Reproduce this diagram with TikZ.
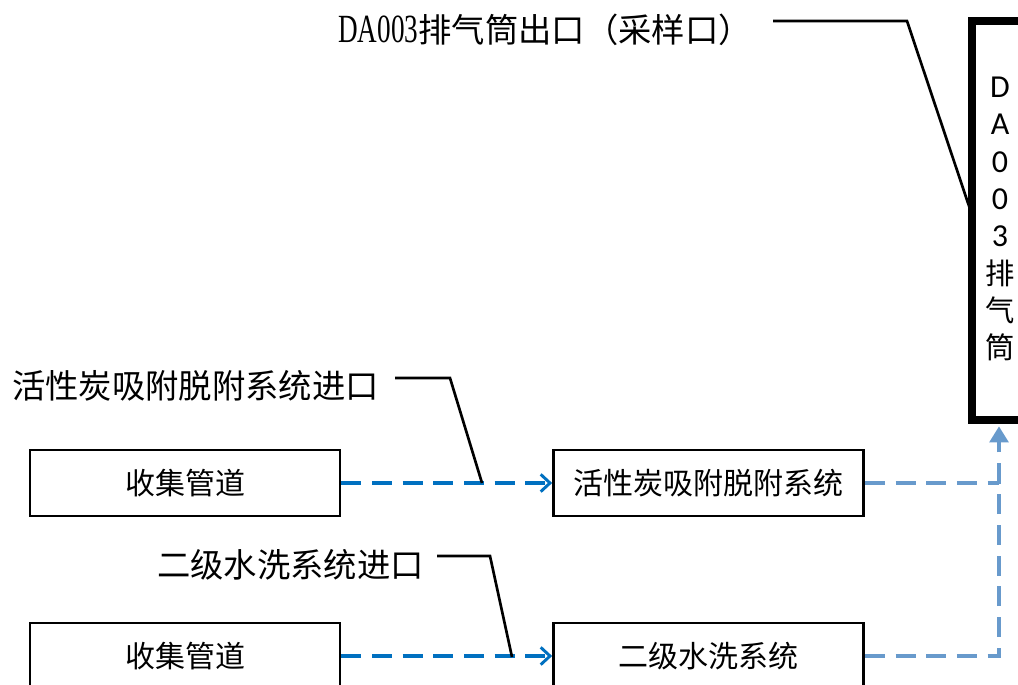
\documentclass[tikz,border=0pt]{standalone}
\usepackage{fontspec}
\usetikzlibrary{arrows.meta}
\newfontfamily\cjk{Noto Sans CJK SC}
\newfontfamily\lat{Carlito}
\newfontfamily\serifl{Liberation Serif}
\definecolor{dblue}{RGB}{0,112,192}
\definecolor{lblue}{RGB}{104,154,204}
\begin{document}
\begin{tikzpicture}[x=0.75pt,y=-0.75pt,
  box/.style={draw=black,line width=2pt,fill=white,minimum width=232.5pt,minimum height=49.5pt,inner sep=0pt,font=\cjk\fontsize{22.5}{26}\selectfont},
  lab/.style={inner sep=0pt,font=\cjk\fontsize{25}{30}\selectfont},
  lead/.style={draw=black,line width=2pt},
  bl/.style={draw=dblue,line width=2.7pt,dash pattern=on 15pt off 8pt,-{Straight Barb[length=7pt,width=13pt,line width=2.2pt]}},
  lb/.style={draw=lblue,line width=2.7pt,dash pattern=on 15pt off 8pt}]
\useasboundingbox (0,0) rectangle (1018,685);

% stack
\node[draw=black,line width=5.5pt,minimum width=42pt,minimum height=299.25pt,inner sep=0pt] (stack) at (1000,220.5) {};
\node[align=center,inner sep=0pt,font=\lat\fontsize{24}{28}\selectfont] (stacktxt) at (1000,219) {D\\A\\0\\0\\3\\{\cjk\fontsize{22}{28}\selectfont 排}\\{\cjk\fontsize{22}{28}\selectfont 气}\\{\cjk\fontsize{22}{28}\selectfont 筒}};

% boxes
\node[box] (c1) at (185,483) {收集管道};
\node[box] (s1) at (708.5,483) {活性炭吸附脱附系统};
\node[box] (c2) at (185,656) {收集管道};
\node[box] (s2) at (708.5,656) {二级水洗系统};

% labels
\node[lab,anchor=west] (ltop) at (338,30) {{\serifl\fontsize{30}{30}\selectfont\scalebox{0.68}[1]{DA003}}排气筒出口（采样口）};
\node[lab,anchor=west] (l1) at (12,386) {活性炭吸附脱附系统进口};
\node[lab,anchor=west] (l2) at (157,565) {二级水洗系统进口};

% flows
\draw[bl] (c1.east) -- (s1.west);
\draw[bl] (c2.east) -- (s2.west);
\coordinate (j1) at (999,483);
\draw[lb] (s1.east) -- (j1);
\draw[lb] (s2.east) -| (j1);
\draw[draw=lblue,line width=2.7pt,dash pattern=on 15pt off 8pt,-{Triangle[length=12pt,width=14pt]},shorten >=2pt] (j1) -- (stack.south -| j1);

% leaders
\coordinate (a0) at (773,21);
\coordinate (k0) at (907,21);
\coordinate (e0) at (972,215);
\draw[lead] (a0) -- (k0) -- (e0);
\coordinate (a1) at (395,378);
\coordinate (k1) at (450,378);
\coordinate (e1) at (482,483);
\draw[lead] (a1) -- (k1) -- (e1);
\coordinate (a2) at (437,556);
\coordinate (k2) at (490,556);
\coordinate (e2) at (512,657);
\draw[lead] (a2) -- (k2) -- (e2);
\end{tikzpicture}
\end{document}
